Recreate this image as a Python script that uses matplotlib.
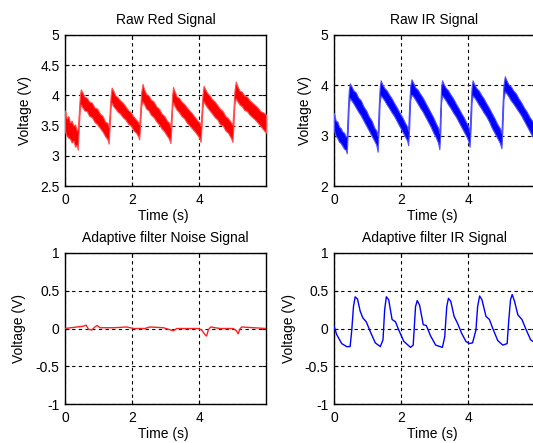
import matplotlib
matplotlib.use("Agg")
import matplotlib.pyplot as plt

plt.rcParams['font.family'] = ['Liberation Sans', 'DejaVu Sans']
plt.rcParams['font.size'] = 10

# ---------------- data ----------------
raw_t = [0.00, 0.05, 0.10, 0.15, 0.20, 0.25, 0.30, 0.35, 0.38,
         0.41, 0.44, 0.47,
         0.52, 0.58, 0.65, 0.72, 0.80, 0.88, 0.96, 1.04, 1.12, 1.20, 1.26, 1.30,
         1.33, 1.36, 1.39,
         1.44, 1.50, 1.57, 1.64, 1.72, 1.80, 1.88, 1.96, 2.04, 2.12, 2.18, 2.21,
         2.24, 2.27, 2.31,
         2.36, 2.42, 2.49, 2.56, 2.64, 2.72, 2.80, 2.88, 2.96, 3.04, 3.10, 3.14,
         3.17, 3.19, 3.22,
         3.27, 3.33, 3.40, 3.47, 3.55, 3.63, 3.71, 3.79, 3.87, 3.95, 4.00, 4.04,
         4.07, 4.10, 4.13,
         4.18, 4.24, 4.31, 4.38, 4.46, 4.54, 4.62, 4.70, 4.78, 4.86, 4.94, 4.99,
         5.02, 5.05, 5.09,
         5.14, 5.20, 5.27, 5.34, 5.42, 5.50, 5.58, 5.66, 5.74, 5.82, 5.90, 5.99]

red_hi = [3.75, 3.62, 3.66, 3.55, 3.58, 3.50, 3.52, 3.42, 3.45,
          3.70, 3.98, 4.10,
          4.05, 3.98, 3.96, 3.90, 3.88, 3.80, 3.78, 3.70, 3.66, 3.56, 3.55, 3.48,
          3.72, 4.00, 4.13,
          4.08, 4.00, 3.97, 3.92, 3.88, 3.82, 3.76, 3.72, 3.65, 3.60, 3.56, 3.52,
          3.75, 4.05, 4.19,
          4.10, 4.02, 4.00, 3.93, 3.90, 3.82, 3.78, 3.70, 3.66, 3.58, 3.55, 3.48,
          3.72, 3.98, 4.14,
          4.06, 3.98, 3.96, 3.90, 3.86, 3.80, 3.75, 3.70, 3.64, 3.58, 3.56, 3.50,
          3.75, 4.02, 4.16,
          4.10, 4.04, 4.00, 3.94, 3.90, 3.84, 3.78, 3.74, 3.66, 3.62, 3.56, 3.52,
          3.78, 4.08, 4.23,
          4.15, 4.08, 4.06, 4.00, 3.98, 3.92, 3.88, 3.84, 3.80, 3.74, 3.72, 3.68]

red_lo = [3.40, 3.33, 3.30, 3.28, 3.22, 3.25, 3.15, 3.18, 3.10,
          3.45, 3.75, 3.85,
          3.80, 3.75, 3.74, 3.66, 3.64, 3.56, 3.52, 3.46, 3.40, 3.32, 3.28, 3.20,
          3.48, 3.80, 3.88,
          3.82, 3.78, 3.73, 3.70, 3.64, 3.60, 3.53, 3.50, 3.42, 3.38, 3.32, 3.27,
          3.50, 3.82, 3.90,
          3.85, 3.78, 3.75, 3.68, 3.64, 3.57, 3.52, 3.45, 3.40, 3.33, 3.28, 3.21,
          3.46, 3.78, 3.88,
          3.82, 3.76, 3.72, 3.66, 3.62, 3.55, 3.50, 3.45, 3.40, 3.34, 3.30, 3.23,
          3.50, 3.80, 3.90,
          3.85, 3.80, 3.75, 3.70, 3.64, 3.60, 3.52, 3.50, 3.42, 3.38, 3.30, 3.23,
          3.50, 3.85, 3.95,
          3.90, 3.85, 3.82, 3.76, 3.74, 3.68, 3.64, 3.60, 3.55, 3.50, 3.44, 3.38]

ir_hi = [3.45, 3.30, 3.28, 3.18, 3.15, 3.08, 3.06, 2.98, 3.00,
         3.50, 3.90, 4.04,
         3.98, 3.90, 3.86, 3.76, 3.70, 3.58, 3.50, 3.38, 3.30, 3.16, 3.10, 3.00,
         3.55, 3.95, 4.10,
         4.02, 3.95, 3.90, 3.82, 3.74, 3.64, 3.55, 3.45, 3.36, 3.25, 3.18, 3.10,
         3.60, 3.98, 4.12,
         4.05, 3.96, 3.92, 3.84, 3.76, 3.66, 3.56, 3.46, 3.36, 3.24, 3.16, 3.05,
         3.55, 3.95, 4.10,
         4.02, 3.95, 3.90, 3.82, 3.74, 3.64, 3.55, 3.45, 3.36, 3.25, 3.18, 3.08,
         3.55, 3.95, 4.10,
         4.02, 3.95, 3.90, 3.82, 3.74, 3.64, 3.55, 3.45, 3.35, 3.24, 3.15, 3.05,
         3.60, 4.00, 4.18,
         4.10, 4.02, 3.98, 3.90, 3.84, 3.74, 3.66, 3.56, 3.48, 3.38, 3.30, 3.22]

ir_lo = [3.10, 3.00, 2.95, 2.88, 2.85, 2.80, 2.74, 2.72, 2.65,
         3.10, 3.60, 3.75,
         3.70, 3.64, 3.56, 3.48, 3.40, 3.30, 3.20, 3.10, 3.00, 2.90, 2.82, 2.68,
         3.10, 3.65, 3.80,
         3.76, 3.70, 3.62, 3.55, 3.46, 3.38, 3.28, 3.18, 3.08, 2.98, 2.90, 2.81,
         3.15, 3.70, 3.82,
         3.78, 3.72, 3.64, 3.56, 3.48, 3.38, 3.28, 3.18, 3.06, 2.96, 2.86, 2.73,
         3.10, 3.65, 3.80,
         3.76, 3.70, 3.62, 3.55, 3.46, 3.38, 3.28, 3.18, 3.08, 2.98, 2.90, 2.78,
         3.12, 3.66, 3.80,
         3.76, 3.70, 3.62, 3.55, 3.46, 3.38, 3.28, 3.16, 3.06, 2.96, 2.86, 2.75,
         3.15, 3.72, 3.88,
         3.84, 3.78, 3.70, 3.64, 3.56, 3.48, 3.40, 3.30, 3.20, 3.10, 3.00, 2.92]

noise_t = [0.00, 0.35, 0.55, 0.63, 0.70, 0.80, 0.89, 0.96, 1.04, 1.44, 1.84,
           2.04, 2.38, 2.53, 2.93, 3.23, 3.33, 3.97, 4.07, 4.17, 4.22, 4.27,
           4.34, 4.62, 5.01, 5.11, 5.16, 5.21, 5.26, 5.99]
noise_v = [0.00, 0.02, 0.03, 0.045, -0.01, -0.02, 0.02, 0.04, 0.01, 0.01, 0.02,
           0.00, 0.00, 0.02, 0.01, -0.03, 0.00, 0.00, -0.02, -0.08, -0.10, -0.02,
           0.02, 0.00, 0.00, -0.03, -0.07, -0.01, 0.02, 0.00]

filt_t = [0.00, 0.08, 0.23, 0.38, 0.48, 0.53, 0.58, 0.63, 0.70, 0.78, 0.86,
          0.96, 1.08, 1.23, 1.38, 1.46, 1.51, 1.56, 1.63, 1.73, 1.83, 1.93,
          2.08, 2.28, 2.36, 2.43, 2.48, 2.55, 2.66, 2.75, 2.88, 3.03, 3.23,
          3.30, 3.36, 3.41, 3.48, 3.58, 3.68, 3.80, 3.93, 4.03, 4.13, 4.23,
          4.28, 4.34, 4.41, 4.53, 4.63, 4.75, 4.88, 5.03, 5.16, 5.21, 5.26,
          5.31, 5.38, 5.48, 5.60, 5.73, 5.86, 5.99]
filt_v = [0.03, -0.08, -0.20, -0.24, -0.24, -0.02, 0.29, 0.42, 0.39, 0.23, 0.14,
          0.09, -0.04, -0.19, -0.24, -0.15, 0.25, 0.42, 0.38, 0.12, 0.09, -0.02,
          -0.17, -0.25, -0.22, 0.29, 0.37, 0.31, 0.05, 0.04, -0.10, -0.22, -0.25,
          -0.11, 0.29, 0.40, 0.36, 0.16, 0.07, -0.06, -0.17, -0.20, -0.19, -0.02,
          0.29, 0.43, 0.38, 0.16, 0.12, -0.02, -0.16, -0.22, -0.20, 0.12, 0.38,
          0.45, 0.36, 0.18, 0.12, -0.02, -0.15, -0.19]

titles = ["Raw Red Signal", "Raw IR Signal",
          "Adaptive filter Noise Signal", "Adaptive filter IR Signal"]
ylims = [(2.5, 5), (2, 5), (-1, 1), (-1, 1)]
yticks = [[2.5, 3, 3.5, 4, 4.5, 5], [2, 3, 4, 5],
          [-1, -0.5, 0, 0.5, 1], [-1, -0.5, 0, 0.5, 1]]
ytick_labels = [["2.5", "3", "3.5", "4", "4.5", "5"], ["2", "3", "4", "5"],
                ["-1", "-0.5", "0", "0.5", "1"], ["-1", "-0.5", "0", "0.5", "1"]]
xticks = [0, 2, 4]
xtick_labels = ["0", "2", "4"]

# ---------------- figure ----------------
W, H = 533, 443
fig = plt.figure(figsize=(W / 100, H / 100), dpi=100)
fig.patch.set_facecolor('white')

AX_W, AX_H = 201, 151
lefts = [65, 334, 65, 334]
tops = [35, 35, 253, 253]
ylabel_cx = [25, 305, 19, 289]   # pixel x-centre of the y labels

axes = []
for l, t in zip(lefts, tops):
    axes.append(fig.add_axes([l / W, 1 - (t + AX_H) / H, AX_W / W, AX_H / H]))

for i, ax in enumerate(axes):
    ax.set_xlim(0, 5.99)
    ax.set_ylim(*ylims[i])
    ax.set_xticks(xticks)
    ax.set_xticklabels(xtick_labels)
    ax.set_yticks(yticks[i])
    ax.set_yticklabels(ytick_labels[i])
    ax.grid(True, color='black', linestyle=(0, (3, 3)), linewidth=0.8)
    ax.set_axisbelow(True)
    ax.tick_params(direction='in', length=3, width=0.8, labelsize=10,
                   top=True, right=True)
    ax.tick_params(axis='x', pad=5)
    ax.tick_params(axis='y', pad=4)
    for s in ax.spines.values():
        s.set_linewidth(1.0)
        s.set_color('black')
    ax.set_title(titles[i], fontsize=10, pad=8)
    ax.set_xlabel("Time (s)", fontsize=10, va='center')
    ax.xaxis.set_label_coords(0.49, -30 / AX_H)
    ax.set_ylabel("Voltage (V)", fontsize=10, va='center')
    ax.yaxis.set_label_coords((ylabel_cx[i] - lefts[i]) / AX_W, 0.5)

axes[0].fill_between(raw_t, red_lo, red_hi, color='#ff0000', linewidth=0.8,
                     edgecolor='#ff5050', zorder=3)
axes[1].fill_between(raw_t, ir_lo, ir_hi, color='#0000ff', linewidth=0.8,
                     edgecolor='#5050ff', zorder=3)
axes[2].plot(noise_t, noise_v, color='#ff2020', linewidth=1.0, zorder=3)
axes[3].plot(filt_t, filt_v, color='#0000ff', linewidth=1.0, zorder=3)

fig.savefig("out.png", dpi=100, facecolor='white')
